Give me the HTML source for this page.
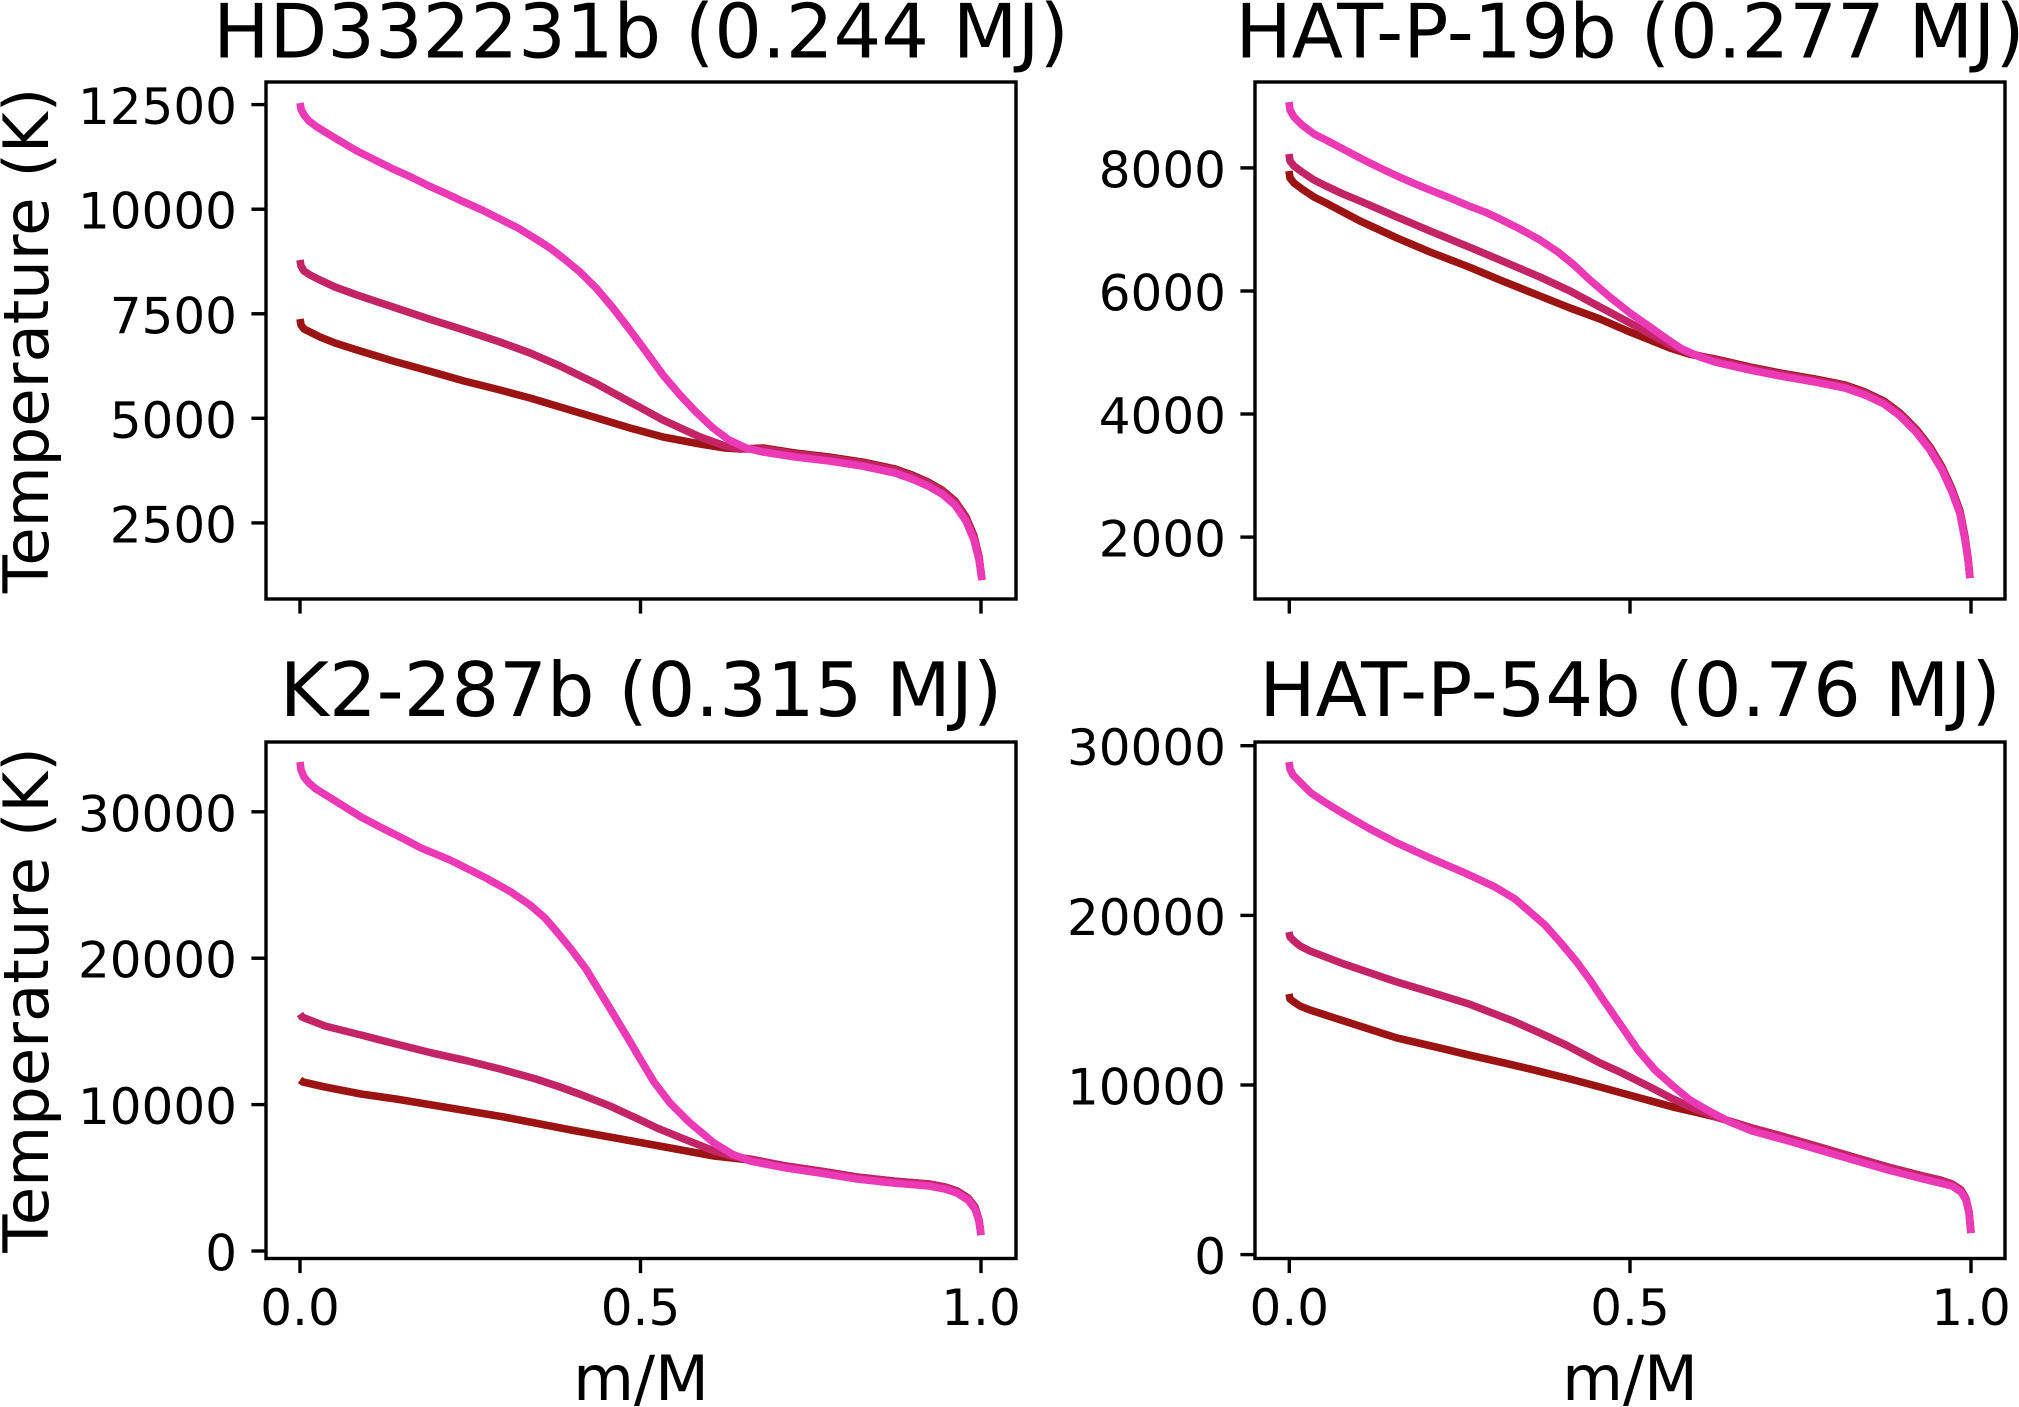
<!DOCTYPE html>
<html>
<head>
<meta charset="utf-8">
<style>
  html, body { margin: 0; padding: 0; background: #ffffff; }
  svg { display: block; }
  text { font-family: "DejaVu Sans", "Liberation Sans", sans-serif; fill: #000; }
  .tick { font-size: 50px; }
  .lab { font-size: 62.5px; }
  .ttl { font-size: 75px; }
  .ax { fill: none; stroke: #000; stroke-width: 3.4; }
  .tk { stroke: #000; stroke-width: 3.4; }
  .c { fill: none; stroke-width: 7.6; stroke-linejoin: round; stroke-linecap: butt; }
  .dk { stroke: #9b1313; }
  .md { stroke: #c32465; }
  .pk { stroke: #ec3ab6; }
</style>
</head>
<body>
<svg width="2019" height="1407" viewBox="0 0 2019 1407" xmlns="http://www.w3.org/2000/svg">
  <rect x="0" y="0" width="2019" height="1407" fill="#ffffff"/>

  <!-- ============ Titles ============ -->
  <text class="ttl" x="641" y="57.3" text-anchor="middle">HD332231b (0.244 MJ)</text>
  <text class="ttl" x="1630" y="57.3" text-anchor="middle">HAT-P-19b (0.277 MJ)</text>
  <text class="ttl" x="641" y="716" text-anchor="middle">K2-287b (0.315 MJ)</text>
  <text class="ttl" x="1630" y="716" text-anchor="middle">HAT-P-54b (0.76 MJ)</text>

  <!-- ============ Y labels ============ -->
  <text class="lab" text-anchor="middle" transform="translate(48,340.5) rotate(-90)">Temperature (K)</text>
  <text class="lab" text-anchor="middle" transform="translate(48,1000) rotate(-90)">Temperature (K)</text>

  <!-- ============ X labels ============ -->
  <text class="lab" x="641" y="1400" text-anchor="middle">m/M</text>
  <text class="lab" x="1630" y="1400" text-anchor="middle">m/M</text>

  <!-- ============ Panel TL ============ -->
  <g>
    <polyline class="c dk" points="300,319 301,325 304,329 310,332 320,337 335,343 357,350 393,361 429,371 464,381 500,390 530,398 560,407 597,418 630,428 663,437 700,444 725,448 740,449 763,448 795,453 829,457 862,462 895,469 912,475 928,482 942,490 955,501 966,517 974,536 979,557 982,580"/>
    <polyline class="c md" points="300,260 301,266 304,271 310,275 320,280 335,287 357,295 393,307 429,319 464,330 500,342 530,353 560,366 597,384 630,402 663,420 700,437 725,446 740,449 763,449 795,454 829,458 862,463 895,470 912,476 928,483 942,491 955,502 966,518 974,537 979,558 982,580"/>
    <polyline class="c pk" points="300,103 301,109 304,115 309,121 317,127 330,135 345,144 357,151 375,160 393,169 411,177 429,186 447,194 464,202 482,210 500,219 518,228 536,239 550,248 563,258 580,272 597,289 613,308 630,330 647,353 663,375 680,395 696,412 713,428 729,440 746,448 763,452 795,457 829,461 862,466 895,473 912,479 928,486 942,494 955,505 966,521 974,540 979,560 982,580"/>
    <rect class="ax" x="266" y="82" width="750" height="517"/>
    <line class="tk" x1="251.4" y1="104.6" x2="266" y2="104.6"/>
    <line class="tk" x1="251.4" y1="209.2" x2="266" y2="209.2"/>
    <line class="tk" x1="251.4" y1="313.8" x2="266" y2="313.8"/>
    <line class="tk" x1="251.4" y1="418.3" x2="266" y2="418.3"/>
    <line class="tk" x1="251.4" y1="522.9" x2="266" y2="522.9"/>
    <text class="tick" x="237" y="124.1" text-anchor="end">12500</text>
    <text class="tick" x="237" y="228.7" text-anchor="end">10000</text>
    <text class="tick" x="237" y="333.3" text-anchor="end">7500</text>
    <text class="tick" x="237" y="437.8" text-anchor="end">5000</text>
    <text class="tick" x="237" y="542.4" text-anchor="end">2500</text>
    <line class="tk" x1="300" y1="599" x2="300" y2="613.6"/>
    <line class="tk" x1="640.5" y1="599" x2="640.5" y2="613.6"/>
    <line class="tk" x1="981" y1="599" x2="981" y2="613.6"/>
  </g>

  <!-- ============ Panel TR ============ -->
  <g>
    <polyline class="c dk" points="1289,171 1290,178 1294,183 1302,189 1314,197 1326,203 1343,212 1360,221 1397,238 1430,252 1469,267 1500,280 1540,296 1570,308 1600,319 1630,332 1650,340 1670,348 1689,354 1715,359 1750,367 1780,373 1815,379 1845,385 1865,392 1884,401 1900,413 1916,429 1930,447 1942,467 1952,489 1960,511 1965,537 1968,558 1970,578"/>
    <polyline class="c md" points="1289,154 1290,161 1294,166 1302,172 1314,180 1326,186 1343,194 1360,201 1397,217 1430,231 1469,247 1500,260 1540,277 1570,291 1600,307 1630,323 1650,334 1670,345 1689,353 1715,360 1750,368 1780,374 1815,380 1845,386 1865,393 1884,402 1900,414 1916,430 1930,448 1942,468 1952,490 1960,512 1965,538 1968,558 1970,578"/>
    <polyline class="c pk" points="1289,102 1290,110 1294,117 1302,125 1314,134 1326,140 1343,149 1360,158 1378,167 1397,176 1413,183 1430,190 1450,198 1469,206 1485,212 1500,219 1520,229 1540,240 1558,252 1574,265 1590,280 1611,298 1630,313 1650,327 1667,339 1682,349 1700,357 1715,362 1750,370 1780,376 1815,382 1845,388 1865,395 1884,404 1900,416 1916,432 1930,450 1942,470 1952,492 1960,514 1965,540 1968,560 1970,578"/>
    <rect class="ax" x="1255" y="82" width="750" height="517"/>
    <line class="tk" x1="1240.4" y1="167.9" x2="1255" y2="167.9"/>
    <line class="tk" x1="1240.4" y1="291" x2="1255" y2="291"/>
    <line class="tk" x1="1240.4" y1="414" x2="1255" y2="414"/>
    <line class="tk" x1="1240.4" y1="537.1" x2="1255" y2="537.1"/>
    <text class="tick" x="1226" y="187.4" text-anchor="end">8000</text>
    <text class="tick" x="1226" y="310.5" text-anchor="end">6000</text>
    <text class="tick" x="1226" y="433.5" text-anchor="end">4000</text>
    <text class="tick" x="1226" y="556.6" text-anchor="end">2000</text>
    <line class="tk" x1="1289.3" y1="599" x2="1289.3" y2="613.6"/>
    <line class="tk" x1="1630" y1="599" x2="1630" y2="613.6"/>
    <line class="tk" x1="1971" y1="599" x2="1971" y2="613.6"/>
  </g>

  <!-- ============ Panel BL ============ -->
  <g>
    <polyline class="c dk" points="300,1080 303,1082 325,1087 361,1094 396,1099 450,1108 504,1117 571,1130 643,1143 714,1156 750,1160 786,1166 820,1171 857,1177 893,1181 929,1184 945,1187 957,1191 968,1198 975,1207 979,1220 981,1235"/>
    <polyline class="c md" points="300,1014 302,1017 307,1019 325,1026 361,1035 396,1044 432,1053 468,1061 500,1069 536,1079 560,1087 582,1095 610,1106 636,1118 657,1128 679,1137 714,1151 735,1157 750,1159 786,1166 820,1171 857,1177 893,1181 929,1184 945,1187 957,1191 968,1198 975,1207 979,1220 981,1235"/>
    <polyline class="c pk" points="300,762 301,770 304,777 309,783 316,789 329,797 345,807 361,817 382,828 404,839 421,848 450,860 486,878 511,892 530,905 545,918 557,932 571,949 586,969 600,992 614,1015 629,1040 642,1062 654,1082 670,1103 689,1122 714,1143 732,1154 750,1161 786,1168 820,1173 857,1179 893,1183 929,1186 945,1189 957,1193 968,1200 975,1209 979,1221 981,1235"/>
    <rect class="ax" x="266" y="742" width="750" height="516.5"/>
    <line class="tk" x1="251.4" y1="811.8" x2="266" y2="811.8"/>
    <line class="tk" x1="251.4" y1="958.2" x2="266" y2="958.2"/>
    <line class="tk" x1="251.4" y1="1104.6" x2="266" y2="1104.6"/>
    <line class="tk" x1="251.4" y1="1251" x2="266" y2="1251"/>
    <text class="tick" x="237" y="831.3" text-anchor="end">30000</text>
    <text class="tick" x="237" y="977.7" text-anchor="end">20000</text>
    <text class="tick" x="237" y="1124.1" text-anchor="end">10000</text>
    <text class="tick" x="237" y="1270.5" text-anchor="end">0</text>
    <line class="tk" x1="300" y1="1258.5" x2="300" y2="1273.1"/>
    <line class="tk" x1="640.5" y1="1258.5" x2="640.5" y2="1273.1"/>
    <line class="tk" x1="981" y1="1258.5" x2="981" y2="1273.1"/>
    <text class="tick" x="300" y="1325" text-anchor="middle">0.0</text>
    <text class="tick" x="640.5" y="1325" text-anchor="middle">0.5</text>
    <text class="tick" x="981" y="1325" text-anchor="middle">1.0</text>
  </g>

  <!-- ============ Panel BR ============ -->
  <g>
    <polyline class="c dk" points="1289,994 1290,999 1294,1002 1300,1006 1310,1010 1344,1021 1397,1038 1440,1048 1469,1055 1500,1062 1530,1069 1570,1079 1600,1087 1640,1098 1673,1107 1695,1112 1716,1117 1752,1128 1785,1137 1816,1146 1850,1156 1888,1167 1923,1176 1940,1180 1952,1184 1961,1190 1966,1199 1969,1212 1971,1233"/>
    <polyline class="c md" points="1289,932 1290,937 1294,941 1300,946 1310,951 1344,964 1397,982 1440,995 1469,1004 1513,1021 1540,1033 1566,1045 1600,1063 1620,1072 1650,1087 1673,1099 1695,1109 1716,1117 1752,1128 1785,1137 1816,1146 1850,1156 1888,1167 1923,1176 1940,1180 1952,1184 1961,1190 1966,1199 1969,1212 1971,1233"/>
    <polyline class="c pk" points="1289,762 1290,769 1293,775 1300,782 1311,793 1326,803 1344,814 1370,829 1397,843 1430,858 1465,873 1495,887 1515,899 1530,912 1545,925 1560,942 1576,961 1590,980 1602,998 1620,1024 1638,1050 1655,1070 1673,1086 1690,1100 1709,1111 1730,1122 1752,1131 1785,1140 1816,1149 1850,1159 1888,1170 1923,1179 1940,1183 1952,1186 1961,1192 1966,1200 1969,1213 1971,1233"/>
    <rect class="ax" x="1255" y="742" width="750" height="516.5"/>
    <line class="tk" x1="1240.4" y1="745.7" x2="1255" y2="745.7"/>
    <line class="tk" x1="1240.4" y1="915.4" x2="1255" y2="915.4"/>
    <line class="tk" x1="1240.4" y1="1085" x2="1255" y2="1085"/>
    <line class="tk" x1="1240.4" y1="1254.6" x2="1255" y2="1254.6"/>
    <text class="tick" x="1226" y="765.2" text-anchor="end">30000</text>
    <text class="tick" x="1226" y="934.9" text-anchor="end">20000</text>
    <text class="tick" x="1226" y="1104.5" text-anchor="end">10000</text>
    <text class="tick" x="1226" y="1274.1" text-anchor="end">0</text>
    <line class="tk" x1="1289.3" y1="1258.5" x2="1289.3" y2="1273.1"/>
    <line class="tk" x1="1630" y1="1258.5" x2="1630" y2="1273.1"/>
    <line class="tk" x1="1971" y1="1258.5" x2="1971" y2="1273.1"/>
    <text class="tick" x="1289.3" y="1325" text-anchor="middle">0.0</text>
    <text class="tick" x="1630" y="1325" text-anchor="middle">0.5</text>
    <text class="tick" x="1971" y="1325" text-anchor="middle">1.0</text>
  </g>
</svg>
</body>
</html>
